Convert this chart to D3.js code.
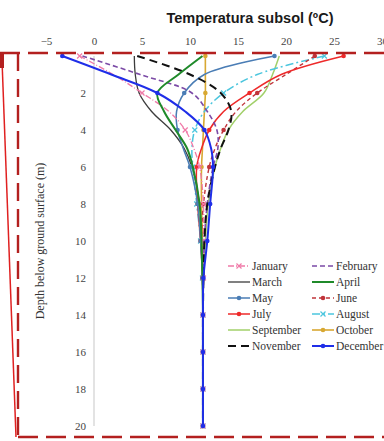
<!DOCTYPE html>
<html><head><meta charset="utf-8">
<script src="https://cdn.jsdelivr.net/npm/d3@7"></script>
<style>
html,body{margin:0;padding:0;background:#fff;}
svg{display:block;}
.tk text{font-family:"Liberation Serif","Times New Roman",serif !important;font-size:11px;fill:#444;}
</style></head>
<body>
<svg id="c" width="384" height="441"></svg>
<script>
const depths = [0,1,2,3,4,5,6,8,10,12,14,16,18,20];
const months = ["January","February","March","April","May","June","July","August","September","October","November","December"];
const jan = [-1.5, 2.0, 5.0, 7.8, 9.5, 10.4, 11.0, 11.4, 11.4, 11.4, 11.35, 11.35, 11.35, 11.35];
const feb = [-1.2, 4.8, 10.2, 11.8, 12.8, 12.9, 12.4, 11.8, 11.5, 11.4, 11.35, 11.35, 11.35, 11.35];
const mar = [4.2, 4.3, 4.7, 6.0, 8.0, 9.4, 10.2, 11.0, 11.3, 11.35, 11.35, 11.35, 11.35, 11.35];
const apr = [11.3, 8.8, 6.6, 7.3, 8.5, 9.7, 10.3, 11.0, 11.2, 11.3, 11.35, 11.35, 11.35, 11.35];
const may = [18.8, 11.5, 9.4, 8.6, 8.7, 9.3, 10.0, 10.8, 11.1, 11.3, 11.35, 11.35, 11.35, 11.35];
const jun = [23.0, 20.0, 17.0, 14.8, 13.5, 12.6, 12.0, 11.4, 11.2, 11.3, 11.35, 11.35, 11.35, 11.35];
const jul = [26.0, 19.5, 16.2, 13.5, 12.0, 11.2, 10.7, 10.8, 11.1, 11.3, 11.35, 11.35, 11.35, 11.35];
const aug = [24.0, 17.0, 13.5, 11.5, 10.5, 10.2, 10.3, 10.7, 11.1, 11.3, 11.35, 11.35, 11.35, 11.35];
const sep = [19.3, 18.6, 17.7, 15.5, 14.0, 13.2, 12.6, 11.9, 11.6, 11.4, 11.35, 11.35, 11.35, 11.35];
const oct = [11.6, 11.6, 11.6, 11.5, 11.4, 11.3, 11.2, 11.2, 11.3, 11.35, 11.35, 11.35, 11.35, 11.35];
const nov = [4.5, 10.0, 13.2, 14.3, 14.0, 13.2, 12.6, 11.8, 11.5, 11.4, 11.35, 11.35, 11.35, 11.35];
const dec = [-3.3, 1.8, 6.6, 9.5, 11.5, 12.2, 12.4, 12.1, 11.8, 11.4, 11.35, 11.35, 11.35, 11.35];
const xTicks = [-5,0,5,10,15,20,25,30];
const yTicks = [2,4,6,8,10,12,14,16,18,20];
const seriesValues = [jan,feb,mar,apr,may,jun,jul,aug,sep,oct,nov,dec];

const styles = [
  {color:"#f07aa8", dash:"6,2,1,2", w:1.3, marker:"cross"},
  {color:"#7b4aa6", dash:"5,3", w:1.6, marker:null},
  {color:"#3c3c3c", dash:null, w:1.3, marker:null},
  {color:"#1f8a2a", dash:null, w:2, marker:null},
  {color:"#4a7db5", dash:null, w:1.5, marker:"circle"},
  {color:"#c0343a", dash:"4,3", w:1.4, marker:"circle"},
  {color:"#ee2a2a", dash:null, w:1.5, marker:"circle"},
  {color:"#4cc6de", dash:"8,3,2,3", w:1.5, marker:"cross"},
  {color:"#a2d06a", dash:null, w:1.5, marker:null},
  {color:"#d8a832", dash:null, w:1.6, marker:"circle"},
  {color:"#111111", dash:"8,5", w:2, marker:null},
  {color:"#1f2ee8", dash:null, w:2, marker:"circle"}
];

const svg = d3.select("#c");
const x = d3.scaleLinear().domain([-5,30]).range([46,382]);
const y = d3.scaleLinear().domain([0,20]).range([56,426]);

svg.append("text").attr("x",250).attr("y",23).attr("text-anchor","middle")
  .attr("font-family","Liberation Sans, Arial, sans-serif").attr("font-weight","bold")
  .attr("font-size",14.5).attr("fill","#1a1a1a").text("Temperatura subsol (ºC)");

const xa = svg.append("g").attr("class","tk").attr("transform","translate(0,53)")
  .call(d3.axisTop(x).tickValues(xTicks).tickSize(0).tickPadding(8));
xa.select(".domain").remove();

const ya = svg.append("g").attr("class","tk").attr("transform",`translate(${x(0)},0)`)
  .call(d3.axisLeft(y).tickValues(yTicks).tickSize(0).tickPadding(8));
ya.select(".domain").remove();
svg.append("line").attr("x1",x(0)).attr("x2",x(0)).attr("y1",y(0)).attr("y2",y(20)).attr("stroke","#d0d0d0").attr("stroke-width",1.2);

svg.append("text").attr("transform",`translate(44,241) rotate(-90)`).attr("text-anchor","middle")
  .attr("font-family","Liberation Serif, Times New Roman, serif").attr("font-size",12).attr("fill","#333")
  .text("Depth below ground surface (m)");

const line = d3.line().x(d=>x(d[1])).y(d=>y(d[0])).curve(d3.curveCatmullRom.alpha(0.5));
const drawOrder = [2,8,9,7,5,6,4,0,1,10,3,11];
drawOrder.forEach(i=>{
  const st = styles[i];
  const pts = depths.map((dp,k)=>[dp, seriesValues[i][k]]);
  svg.append("path").datum(pts).attr("d",line).attr("fill","none")
    .attr("stroke",st.color).attr("stroke-width",st.w)
    .attr("stroke-dasharray",st.dash);
  if(st.marker){
    const mk = pts.filter(p=>p[0]%2===0);
    if(st.marker==="circle"){
      svg.append("g").selectAll("circle").data(mk).join("circle")
        .attr("cx",d=>x(d[1])).attr("cy",d=>y(d[0])).attr("r",2.3).attr("fill",st.color);
    } else {
      svg.append("g").selectAll("path").data(mk).join("path")
        .attr("d",d=>`M${x(d[1])-2.5},${y(d[0])-2.5}L${x(d[1])+2.5},${y(d[0])+2.5}M${x(d[1])-2.5},${y(d[0])+2.5}L${x(d[1])+2.5},${y(d[0])-2.5}`)
        .attr("stroke",st.color).attr("stroke-width",1.2);
    }
  }
});

const lg = svg.append("g");
months.forEach((m,i)=>{
  const col = i%2, row = Math.floor(i/2);
  const lx = col===0 ? 228 : 312, ly = 266 + row*16;
  const st = styles[i];
  lg.append("line").attr("x1",lx).attr("x2",lx+22).attr("y1",ly).attr("y2",ly)
    .attr("stroke",st.color).attr("stroke-width",st.w).attr("stroke-dasharray",st.dash);
  if(st.marker==="circle") lg.append("circle").attr("cx",lx+11).attr("cy",ly).attr("r",2.3).attr("fill",st.color);
  if(st.marker==="cross") lg.append("path").attr("d",`M${lx+8.5},${ly-2.5}L${lx+13.5},${ly+2.5}M${lx+8.5},${ly+2.5}L${lx+13.5},${ly-2.5}`).attr("stroke",st.color).attr("stroke-width",1.2);
  lg.append("text").attr("x",lx+24).attr("y",ly+4).attr("font-family","Liberation Serif, Times New Roman, serif")
    .attr("font-size",11.5).attr("fill","#333").text(m);
});

const red = "#b3201f";
svg.append("line").attr("x1",0).attr("x2",384).attr("y1",53).attr("y2",53).attr("stroke",red).attr("stroke-width",2.6).attr("stroke-dasharray","20,8");
svg.append("line").attr("x1",18).attr("x2",18).attr("y1",53).attr("y2",437).attr("stroke",red).attr("stroke-width",2.4).attr("stroke-dasharray","18,8");
svg.append("line").attr("x1",18).attr("x2",384).attr("y1",437).attr("y2",437).attr("stroke",red).attr("stroke-width",2.6).attr("stroke-dasharray","20,8");
svg.append("line").attr("x1",2).attr("x2",16).attr("y1",60).attr("y2",437).attr("stroke","#e02020").attr("stroke-width",1.5);
svg.append("rect").attr("x",0).attr("y",52).attr("width",4).attr("height",16).attr("fill",red);
</script>
</body></html>
